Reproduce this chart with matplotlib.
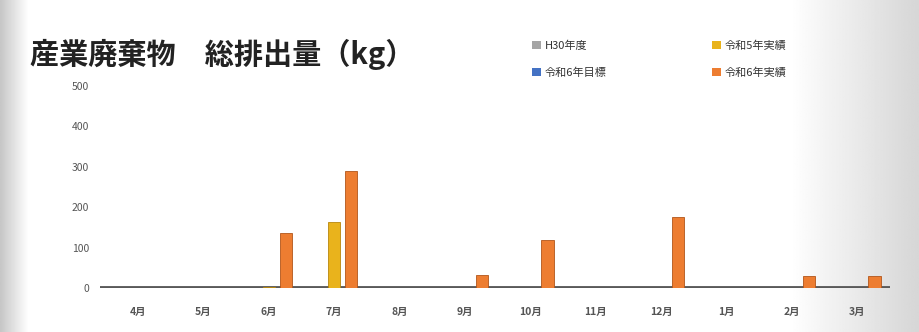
import numpy as np
import matplotlib.pyplot as plt
from matplotlib.patches import Patch

plt.rcParams['font.family'] = ['Noto Sans CJK JP', 'DejaVu Sans']

months = ['4月', '5月', '6月', '7月', '8月', '9月', '10月', '11月', '12月', '1月', '2月', '3月']
h30 = [0, 0, 0, 0, 0, 0, 0, 0, 0, 0, 0, 0]
r5_actual = [0, 0, 2, 163, 0, 0, 0, 0, 0, 0, 0, 0]
r6_target = [0, 0, 0, 0, 0, 0, 0, 0, 0, 0, 0, 0]
r6_actual = [0, 0, 135, 290, 0, 32, 118, 0, 175, 0, 30, 30]

series = [
    ('H30年度', h30, '#a5a5a5', -0.26),
    ('令和5年実績', r5_actual, '#e9b31c', 0.0),
    ('令和6年目標', r6_target, '#4472c4', 0.0),
    ('令和6年実績', r6_actual, '#ed7d31', 0.26),
]

W, H = 919, 332
fig = plt.figure(figsize=(W / 100, H / 100), dpi=100)

# scanned look: grey left edge, grey fade on the right
bg = fig.add_axes([0, 0, 1, 1])
xs = np.linspace(0, 1, 600)
prof = np.ones_like(xs)
prof = np.minimum(prof, 0.78 + 0.22 * np.clip(xs / 0.03, 0, 1))
prof = np.minimum(prof, 1.0 - 0.16 * np.clip((xs - 0.86) / 0.14, 0, 1))
img = np.tile(prof, (50, 1))
bg.imshow(img, cmap='gray', vmin=0, vmax=1, aspect='auto', extent=[0, 1, 0, 1])
bg.axis('off')

ax = fig.add_axes([100 / W, (H - 288) / H, 790 / W, 202 / H])
ax.patch.set_alpha(0)
x = np.arange(len(months))
width = 0.19
for name, vals, col, off in series:
    ax.bar(x + off, vals, width, color=col, edgecolor='#b2551a' if col == '#ed7d31' else '#b8860b',
           linewidth=0.6, zorder=3)

ax.axhline(0, color='#5a5a5a', lw=3.5, zorder=2)
ax.set_xlim(-0.58, 11.5)
ax.set_ylim(0, 500)
ax.set_yticks([0, 100, 200, 300, 400, 500])
ax.set_xticks(x)
ax.set_xticklabels(months, fontweight='bold')
ax.tick_params(axis='both', length=0, labelsize=7.5, colors='#555555')
ax.tick_params(axis='x', pad=14)
ax.tick_params(axis='y', pad=8)
for s in ax.spines.values():
    s.set_visible(False)

fig.text(30 / W, 1 - 54 / H, '産業廃棄物　総排出量（kg）', fontsize=21, fontweight='bold',
         color='#222222', va='center', ha='left')

handles = [Patch(facecolor=c, label=n) for n, v, c, o in series]
handles = [handles[0], handles[2], handles[1], handles[3]]
leg = fig.legend(handles=handles, ncol=2, loc='upper left', bbox_to_anchor=(518 / W, 1 - 26 / H),
                 fontsize=8, frameon=True, handlelength=0.8, handleheight=0.8, handletextpad=0.3,
                 columnspacing=9.5, labelspacing=1.5, borderpad=0.8)
leg.get_frame().set_edgecolor('none')
leg.get_frame().set_facecolor('white')
for t in leg.get_texts():
    t.set_color('#333333')

fig.savefig('out.png', dpi=100)
